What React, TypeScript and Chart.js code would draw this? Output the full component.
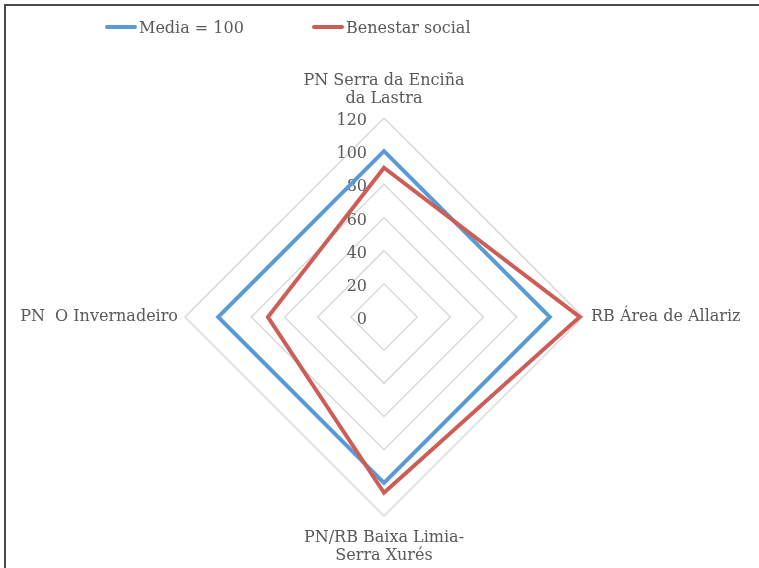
import React, { useEffect, useRef } from "react";
import { Chart, registerables } from "chart.js";

Chart.register(...registerables);

// ---- data ----
const categories: (string | string[])[] = [
  ["PN Serra da Enciña", "da Lastra"],
  "RB Área de Allariz",
  ["PN/RB Baixa Limia-", "Serra Xurés"],
  "PN  O Invernadeiro",
];
const seriesNames = ["Media = 100", "Benestar social"];
const mediaValues = [100, 100, 100, 100];
const benestarValues = [90, 118, 106, 70];
const tickValues = [0, 20, 40, 60, 80, 100, 120];
const seriesColors = ["#5B9BD5", "#CD5D57"];

const FONT = "'DejaVu Serif', serif";
const TEXT_COLOR = "#595959";

const tickLabelPlugin = {
  id: "tickLabelPlugin",
  beforeDatasetsDraw(chart: any) {
    const s = chart.scales.r;
    const ctx = chart.ctx;
    ctx.save();
    ctx.font = `16px ${FONT}`;
    ctx.fillStyle = TEXT_COLOR;
    ctx.textAlign = "right";
    ctx.textBaseline = "middle";
    tickValues.forEach((v) => {
      const d = s.getDistanceFromCenterForValue(v);
      ctx.fillText(String(v), s.xCenter - 17, s.yCenter - d + 3);
    });
    ctx.restore();
  },
};

export default function App() {
  const canvasRef = useRef<HTMLCanvasElement | null>(null);

  useEffect(() => {
    if (!canvasRef.current) return;
    const chart = new Chart(canvasRef.current, {
      type: "radar",
      data: {
        labels: categories as any,
        datasets: [
          {
            label: seriesNames[0],
            data: mediaValues,
            borderColor: seriesColors[0],
            backgroundColor: seriesColors[0],
            borderWidth: 4,
            fill: false,
            pointRadius: 0,
            pointHoverRadius: 0,
            borderJoinStyle: "miter",
            order: 1,
          },
          {
            label: seriesNames[1],
            data: benestarValues,
            borderColor: seriesColors[1],
            backgroundColor: seriesColors[1],
            borderWidth: 4,
            fill: false,
            pointRadius: 0,
            pointHoverRadius: 0,
            borderJoinStyle: "miter",
            order: 0,
          },
        ],
      },
      options: {
        responsive: false,
        animation: false,
        devicePixelRatio: 1,
        layout: { padding: { top: 71, bottom: 1, left: 3, right: 0 } },
        plugins: {
          legend: { display: false },
          tooltip: { enabled: false },
        },
        scales: {
          r: {
            min: 0,
            max: 120,
            ticks: { display: false, stepSize: 20 },
            grid: { color: "#d9d9d9", lineWidth: 1.5 },
            angleLines: { display: false },
            pointLabels: {
              color: TEXT_COLOR,
              font: { family: FONT, size: 16, lineHeight: 1.125 },
              padding: (ctx: any) => [10, 8, 13, 7][ctx.index],
            },
          },
        },
      },
      plugins: [tickLabelPlugin],
    } as any);
    return () => chart.destroy();
  }, []);

  const legendItems = [
    { name: seriesNames[0], color: seriesColors[0], left: 105 },
    { name: seriesNames[1], color: seriesColors[1], left: 312 },
  ];

  return (
    <div
      style={{
        position: "fixed",
        left: 0,
        top: 0,
        width: 759,
        height: 568,
        background: "#fff",
        overflow: "hidden",
      }}
    >
      <div
        style={{
          position: "absolute",
          left: 4,
          top: 4,
          width: 800,
          height: 600,
          borderTop: "2px solid #4a4a4a",
          borderLeft: "2px solid #4a4a4a",
          boxSizing: "border-box",
        }}
      />
      <canvas
        ref={canvasRef}
        width={759}
        height={568}
        style={{ position: "absolute", left: 0, top: 0, width: 759, height: 568 }}
      />
      {legendItems.map((it) => (
        <div
          key={it.name}
          style={{
            position: "absolute",
            left: it.left,
            top: 16,
            height: 22,
            display: "flex",
            alignItems: "center",
            fontFamily: FONT,
            fontSize: 16,
            color: TEXT_COLOR,
            whiteSpace: "nowrap",
          }}
        >
          <span
            style={{
              display: "inline-block",
              width: 32,
              height: 4,
              borderRadius: 2,
              background: it.color,
              marginRight: 2,
            }}
          />
          <span>{it.name}</span>
        </div>
      ))}
    </div>
  );
}
